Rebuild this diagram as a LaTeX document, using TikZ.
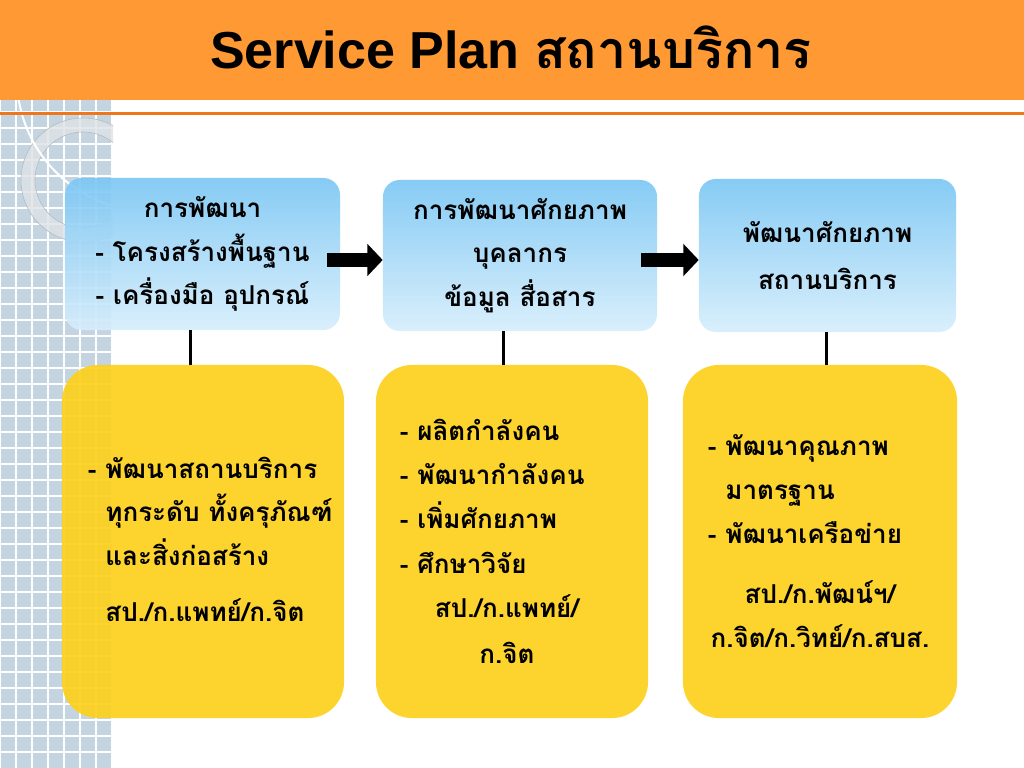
\documentclass[tikz,border=0pt]{standalone}
\usepackage{fontspec}
\setsansfont{Liberation Sans}
\newfontfamily\thaifont[Script=Thai]{Loma}
\usetikzlibrary{arrows.meta}
\definecolor{headorange}{RGB}{255,153,51}
\definecolor{lineorange}{RGB}{240,118,28}
\definecolor{gridblue}{RGB}{196,212,225}
\definecolor{ringgray}{RGB}{222,227,231}
\definecolor{boxtop}{RGB}{122,198,244}
\definecolor{boxbottom}{RGB}{214,238,252}
\definecolor{boxyellow}{RGB}{253,208,30}
\tikzset{
    topbox/.style={rounded corners=0.42cm, top color=boxtop, bottom color=boxbottom,
        fill opacity=0.9, text opacity=1, align=center,
        font=\thaifont\bfseries\fontsize{18.5}{31}\selectfont},
    botbox/.style={rounded corners=0.9cm, fill=boxyellow, fill opacity=0.93},
    bodytext/.style={font=\thaifont\bfseries\fontsize{18.5}{31}\selectfont},
    bigarrow/.style={line width=0.35cm, -{Triangle[length=0.38cm,width=0.78cm]}},
    stem/.style={line width=0.075cm}
}
\begin{document}
\begin{tikzpicture}[x=0.025cm,y=-0.025cm]
            \useasboundingbox (0,0) rectangle (1024,768);
            \fill[white] (0,0) rectangle (1024,768);
            \fill[gridblue] (0,100) rectangle (113,768);
            \draw[white,line width=0.045cm,step=0.4cm] (0,100) grid (113,768);
            \begin{scope}
                \clip (0,100) rectangle (113,768);
                \draw[gray!55,fill=ringgray,fill opacity=0.8,even odd rule] (83,180) circle (1.55cm) (83,180) circle (1.2cm);
                \draw[white,line width=0.05cm] (150,78) circle (3.325cm);
            \end{scope}
            \fill[headorange] (0,0) rectangle (1024,100);
            \draw[lineorange,line width=0.08cm] (0,113.5) -- (1024,113.5);
            \node[anchor=base] (title) at (511,69) {\fontsize{37}{42}\selectfont\sffamily\bfseries Service Plan {\thaifont สถานบริการ}};
            \node[topbox,minimum width=6.875cm,minimum height=3.8cm] (top1) at (202.5,254) {การพัฒนา\\- โครงสร้างพื้นฐาน\\- เครื่องมือ อุปกรณ์};
            \node[topbox,minimum width=6.85cm,minimum height=3.775cm] (top2) at (520,255.5) {การพัฒนาศักยภาพ\\บุคลากร\\ข้อมูล สื่อสาร};
            \node[topbox,minimum width=6.425cm,minimum height=3.825cm,font=\thaifont\bfseries\fontsize{18.5}{33}\selectfont] (top3) at (827.5,255.5) {พัฒนาศักยภาพ\\สถานบริการ};
            \node[botbox,minimum width=7.05cm,minimum height=8.825cm] (bot1) at (203,541.5) {};
            \node[botbox,minimum width=6.8cm,minimum height=8.825cm] (bot2) at (512,541.5) {};
            \node[botbox,minimum width=6.85cm,minimum height=8.825cm] (bot3) at (820,541.5) {};
            \coordinate (l1) at (190,0);
            \coordinate (l2) at (503,0);
            \coordinate (l3) at (826,0);
            \draw[stem] (l1 |- top1.south) -- (l1 |- bot1.north);
            \draw[stem] (l2 |- top2.south) -- (l2 |- bot2.north);
            \draw[stem] (l3 |- top3.south) -- (l3 |- bot3.north);
            \coordinate (a1) at (327,260);
            \coordinate (a2) at (641,260);
            \draw[bigarrow] (a1) -- (a1 -| top2.west);
            \draw[bigarrow] (a2) -- (a2 -| top3.west);
            \node[bodytext,anchor=west,align=left] (b1a) at (83,511) {- พัฒนาสถานบริการ\\\phantom{- }ทุกระดับ ทั้งครุภัณฑ์\\\phantom{- }และสิ่งก่อสร้าง};
            \node[bodytext] (b1b) at (205,610) {สป./ก.แพทย์/ก.จิต};
            \node[bodytext,anchor=west,align=left,font=\thaifont\bfseries\fontsize{18.5}{31.5}\selectfont] (b2a) at (395,496) {- ผลิตกำลังคน\\- พัฒนากำลังคน\\- เพิ่มศักยภาพ\\- ศึกษาวิจัย};
            \node[bodytext,align=center,font=\thaifont\bfseries\fontsize{18.5}{33}\selectfont] (b2b) at (507,629) {สป./ก.แพทย์/\\ก.จิต};
            \node[bodytext,anchor=west,align=left] (b3a) at (703,489) {- พัฒนาคุณภาพ\\\phantom{- }มาตรฐาน\\- พัฒนาเครือข่าย};
            \node[bodytext,align=center] (b3b) at (820,614) {สป./ก.พัฒน์ฯ/\\ก.จิต/ก.วิทย์/ก.สบส.};
        \end{tikzpicture}
\end{document}
